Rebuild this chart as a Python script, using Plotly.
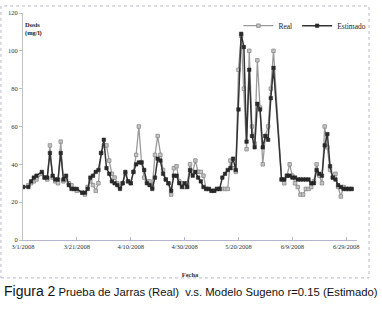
import pandas as pd
import plotly.graph_objects as go

start_date = "2008-03-01"
day_offset = [0, 2, 3, 4, 5, 7, 8, 9, 10, 11, 12, 13, 14, 15, 16, 17, 18, 19, 20,
              22, 23, 24, 25, 26, 27, 28, 29, 30, 31, 32, 33, 34, 35, 36, 37, 38, 39,
              40, 41, 42, 43, 44, 45, 46, 47, 48, 49, 50, 51, 52, 53, 54, 55, 56, 57,
              58, 59, 60, 61, 62, 63, 64, 65, 66, 67, 68, 69, 70, 71, 72, 73, 74, 75,
              76, 77, 78, 79, 80, 81, 82, 83, 84, 85, 86, 87, 88, 89, 90, 91, 92, 93,
              96, 97, 98, 99, 100, 101, 102, 103, 104, 105, 106, 107, 108, 109, 110,
              111, 112, 113, 114, 115, 116, 117, 118, 119, 120, 121, 122]

estimado = [28, 28, 31, 33, 34, 36, 33, 33, 46, 34, 32, 32, 46, 32, 34, 29, 27, 27, 27,
            25, 25, 27, 33, 34, 36, 37, 46, 53, 38, 35, 31, 30, 29, 27, 30, 36, 31,
            30, 36, 40, 41, 41, 37, 30, 29, 27, 33, 43, 42, 35, 32, 30, 26, 34, 34,
            30, 28, 30, 28, 37, 34, 36, 33, 31, 28, 27, 27, 26, 26, 27, 27, 33, 35,
            37, 38, 43, 37, 69, 109, 102, 52, 90, 55, 49, 72, 69, 49, 55, 53, 75, 91,
            32, 32, 34, 34, 33, 33, 32, 32, 32, 32, 32, 30, 30, 37, 35,
            34, 50, 56, 39, 33, 32, 29, 28, 27, 27, 27, 27]

real = [28, 29, 30, 31, 32, 35, 33, 32, 50, 33, 31, 30, 52, 31, 32, 30, 29, 27, 26,
        25, 24, 28, 31, 29, 26, 30, 46, 50, 50, 42, 35, 33, 30, 28, 30, 35, 31,
        30, 36, 45, 60, 41, 33, 31, 31, 28, 45, 55, 45, 37, 32, 30, 24, 38, 39,
        31, 30, 28, 30, 40, 36, 42, 36, 36, 34, 27, 27, 26, 26, 27, 27, 27, 27,
        27, 42, 38, 36, 90, 108, 80, 48, 100, 60, 51, 95, 70, 40, 55, 60, 80, 100,
        32, 30, 34, 40, 34, 30, 28, 24, 24, 27, 27, 28, 31, 40, 34,
        30, 60, 49, 37, 33, 35, 28, 23, 28, 27, 27, 27]

x_tick_vals = ["2008-03-01", "2008-03-21", "2008-04-10", "2008-04-30",
               "2008-05-20", "2008-06-09", "2008-06-29"]
x_tick_text = ["3/1/2008", "3/21/2008", "4/10/2008", "4/30/2008",
               "5/20/2008", "6/9/2008", "6/29/2008"]
y_tick_vals = [0, 20, 40, 60, 80, 100, 120]

dates = [pd.Timestamp(start_date) + pd.Timedelta(days=d) for d in day_offset]

serif = "Liberation Serif, Times New Roman, serif"
sans = "Liberation Sans, Arial, sans-serif"

fig = go.Figure()
fig.add_trace(go.Scatter(
    x=dates, y=real, name="Real", mode="lines+markers",
    line=dict(color="#9a9a9a", width=1.3),
    marker=dict(symbol="square", size=3.5, color="#c4c4c4",
                line=dict(color="#8a8a8a", width=0.8)),
))
fig.add_trace(go.Scatter(
    x=dates, y=estimado, name="Estimado", mode="lines+markers",
    line=dict(color="#333333", width=1.5),
    marker=dict(symbol="square", size=3.5, color="#2a2a2a",
                line=dict(color="#222222", width=0.5)),
))

fig.update_layout(
    width=382, height=309,
    margin=dict(l=23, r=24, t=12, b=69),
    paper_bgcolor="white", plot_bgcolor="white",
    showlegend=True,
    legend=dict(orientation="h", x=1.04, xanchor="right", y=0.94, yanchor="middle",
                font=dict(family=serif, size=7.5, color="#222"),
                bgcolor="rgba(0,0,0,0)", itemwidth=30, tracegroupgap=0),
    font=dict(family=serif, size=7, color="#333"),
)

fig.update_xaxes(
    automargin=False,
    range=["2008-03-01", "2008-07-03"],
    tickmode="array", tickvals=x_tick_vals, ticktext=x_tick_text,
    tickfont=dict(family=serif, size=6.5, color="#333"),
    showgrid=False, zeroline=False,
    showline=True, linecolor="#b4b4cc", linewidth=1,
    ticks="inside", ticklen=3, tickcolor="#b4b4cc",
    title=dict(text="<b>Fecha</b>", font=dict(family=serif, size=6.5, color="#333"),
               standoff=23),
)
fig.update_yaxes(
    automargin=False,
    range=[0, 120], tickmode="array", tickvals=y_tick_vals,
    tickfont=dict(family=serif, size=6.5, color="#333"),
    showgrid=False, zeroline=False,
    showline=True, linecolor="#c0c0c0", linewidth=1,
    ticks="outside", ticklen=3, tickcolor="#c0c0c0",
)

fig.add_annotation(
    text="<b>Dosis</b><br><b>(mg/l)</b>", xref="paper", yref="paper",
    x=0.0, y=0.975, xanchor="left", yanchor="top", showarrow=False,
    align="left", font=dict(family=serif, size=6.5, color="#222"),
)
fig.add_annotation(
    text="<span style='font-size:14px'>Figura 2</span> Prueba de Jarras (Real)  v.s. Modelo Sugeno r=0.15 (Estimado)",
    xref="paper", yref="paper", x=-0.063, y=-0.225, xanchor="left", yanchor="middle",
    showarrow=False, font=dict(family=sans, size=11.3, color="#111"),
)
fig.add_shape(
    type="rect", xref="paper", yref="paper",
    x0=-0.066, x1=1.036, y0=-0.167, y1=1.031,
    line=dict(color="#b8b8cc", width=1, dash="dot"), fillcolor="rgba(0,0,0,0)",
    layer="below",
)

fig.write_html("out.html",
               config={"displayModeBar": False},
               post_script="document.body.style.margin='0';document.body.style.overflow='hidden';")
